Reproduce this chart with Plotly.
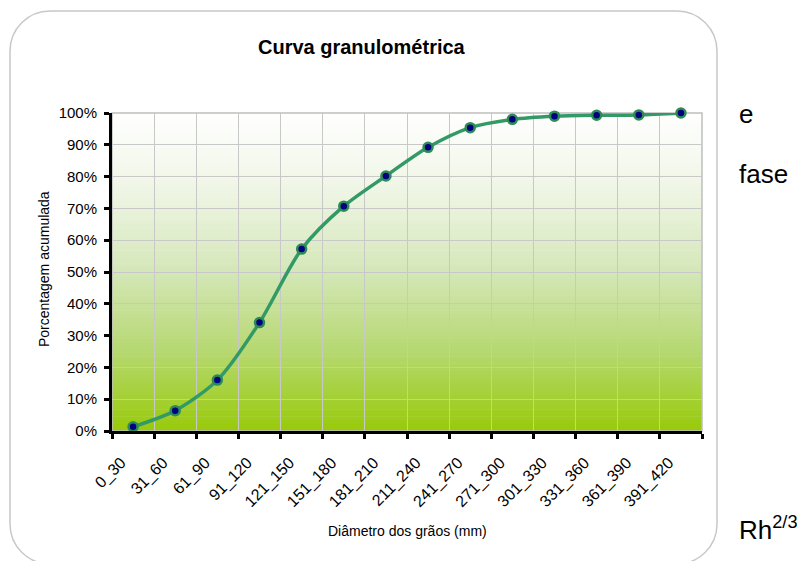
import plotly.graph_objects as go

categories = ["0_30", "31_60", "61_90", "91_120", "121_150", "151_180", "181_210",
              "211_240", "241_270", "271_300", "301_330", "331_360", "361_390", "391_420"]
cumulative = [0.013, 0.064, 0.160, 0.341, 0.572, 0.707, 0.802,
              0.892, 0.954, 0.980, 0.990, 0.993, 0.994, 1.000]
y_ticks = [0, 0.1, 0.2, 0.3, 0.4, 0.5, 0.6, 0.7, 0.8, 0.9, 1.0]

title_text = "Curva granulométrica"
x_title = "Diâmetro dos grãos (mm)"
y_title = "Porcentagem acumulada"

FONT = "Liberation Sans, Arial, sans-serif"
# the page body adds an 8px offset; size the figure so it fills the window
OFF = 8
W, H = 805 - OFF, 561 - OFF
PLOT_LEFT, PLOT_RIGHT, PLOT_TOP, PLOT_BOTTOM = 112, 702, 113, 431  # window pixels
L = PLOT_LEFT - OFF
T = PLOT_TOP - OFF
R = W - (PLOT_RIGHT - OFF)
B = H - (PLOT_BOTTOM - OFF)
PW, PH = PLOT_RIGHT - PLOT_LEFT, PLOT_BOTTOM - PLOT_TOP


def px(x):
    return (x - PLOT_LEFT) / PW


def py(y):
    return (PLOT_BOTTOM - y) / PH


# gradient stops (fraction of height, rgb)
stops = [(0.0, (152, 202, 10)), (0.25, (182, 216, 112)), (0.5, (212, 231, 184)),
         (0.75, (238, 245, 228)), (1.0, (255, 255, 255))]


def grad(t):
    for (a, ca), (b, cb) in zip(stops[:-1], stops[1:]):
        if a <= t <= b:
            f = (t - a) / (b - a)
            c = [round(ca[i] + (cb[i] - ca[i]) * f) for i in range(3)]
            return "rgb(%d,%d,%d)" % tuple(c)
    return "rgb(255,255,255)"


shapes = []
N = 90
for i in range(N):
    y0 = i / N
    y1 = (i + 1) / N + 0.002
    shapes.append(dict(type="rect", xref="paper", yref="paper", x0=0, x1=1,
                       y0=y0, y1=min(y1, 1), fillcolor=grad((i + 0.5) / N),
                       line=dict(width=0), layer="below"))

# plot border (grey)
shapes.append(dict(type="rect", xref="paper", yref="paper", x0=0, x1=1, y0=0, y1=1,
                   line=dict(color="#bfbfbf", width=1.5), layer="below"))

# rounded outer frame
x0p, x1p, y0p, y1p, r = 10, 717, 11, 564, 40
k = 0.5523 * r
path = "M %f,%f " % (px(x0p + r), py(y0p))
path += "L %f,%f " % (px(x1p - r), py(y0p))
path += "C %f,%f %f,%f %f,%f " % (px(x1p - r + k), py(y0p), px(x1p), py(y0p + r - k), px(x1p), py(y0p + r))
path += "L %f,%f " % (px(x1p), py(y1p - r))
path += "C %f,%f %f,%f %f,%f " % (px(x1p), py(y1p - r + k), px(x1p - r + k), py(y1p), px(x1p - r), py(y1p))
path += "L %f,%f " % (px(x0p + r), py(y1p))
path += "C %f,%f %f,%f %f,%f " % (px(x0p + r - k), py(y1p), px(x0p), py(y1p - r + k), px(x0p), py(y1p - r))
path += "L %f,%f " % (px(x0p), py(y0p + r))
path += "C %f,%f %f,%f %f,%f Z" % (px(x0p), py(y0p + r - k), px(x0p + r - k), py(y0p), px(x0p + r), py(y0p))
shapes.append(dict(type="path", xref="paper", yref="paper", path=path,
                   line=dict(color="#c8c8c8", width=1.5), layer="below"))

fig = go.Figure()
fig.add_trace(go.Scatter(
    x=categories, y=cumulative, mode="lines+markers",
    line=dict(color="#339966", width=3.5, shape="spline", smoothing=0.8),
    marker=dict(size=9, color="#000080", line=dict(color="#2e8b57", width=2.5)),
    cliponaxis=False, showlegend=False, hoverinfo="x+y"))


def ann(text, x, y, size, xanchor="center", angle=0):
    return dict(text=text, x=px(x), y=py(y), xref="paper", yref="paper",
                xanchor=xanchor, yanchor="middle", textangle=angle, showarrow=False,
                font=dict(size=size, family=FONT, color="black"))


annotations = [
    ann("<b>%s</b>" % title_text, 362, 47, 20),
    ann(y_title, 44, 269, 14, angle=-90),
    ann(x_title, 407, 531, 14),
    ann("e", 737, 114, 26, xanchor="left"),
    ann("fase", 737, 174, 26, xanchor="left"),
    ann("Rh<sup>2/3</sup>", 737, 528, 26, xanchor="left"),
]

fig.update_layout(
    width=W, height=H,
    margin=dict(l=L, r=R, t=T, b=B),
    paper_bgcolor="white", plot_bgcolor="rgba(0,0,0,0)",
    shapes=shapes, annotations=annotations,
    font=dict(family=FONT, color="black", size=15),
    xaxis=dict(type="category", range=[-0.5, len(categories) - 0.5], tickson="boundaries",
               ticks="outside", ticklen=5, tickwidth=2.5, tickcolor="black",
               showline=True, linecolor="black", linewidth=3,
               showgrid=True, gridcolor="#c8c8c8", gridwidth=1,
               tickangle=-45, tickfont=dict(size=16, family=FONT, color="black"),
               ticklabelstandoff=13, ticklabelshift=-12,
               zeroline=False),
    yaxis=dict(range=[0, 1], tickvals=y_ticks, tickformat=".0%",
               ticks="outside", ticklen=5, tickwidth=2.5, tickcolor="black",
               showline=True, linecolor="black", linewidth=3,
               showgrid=True, gridcolor="#c8c8c8", gridwidth=1,
               ticklabelstandoff=4,
               tickfont=dict(size=15, family=FONT, color="black"), zeroline=False),
)

fig.write_html("out.html")
